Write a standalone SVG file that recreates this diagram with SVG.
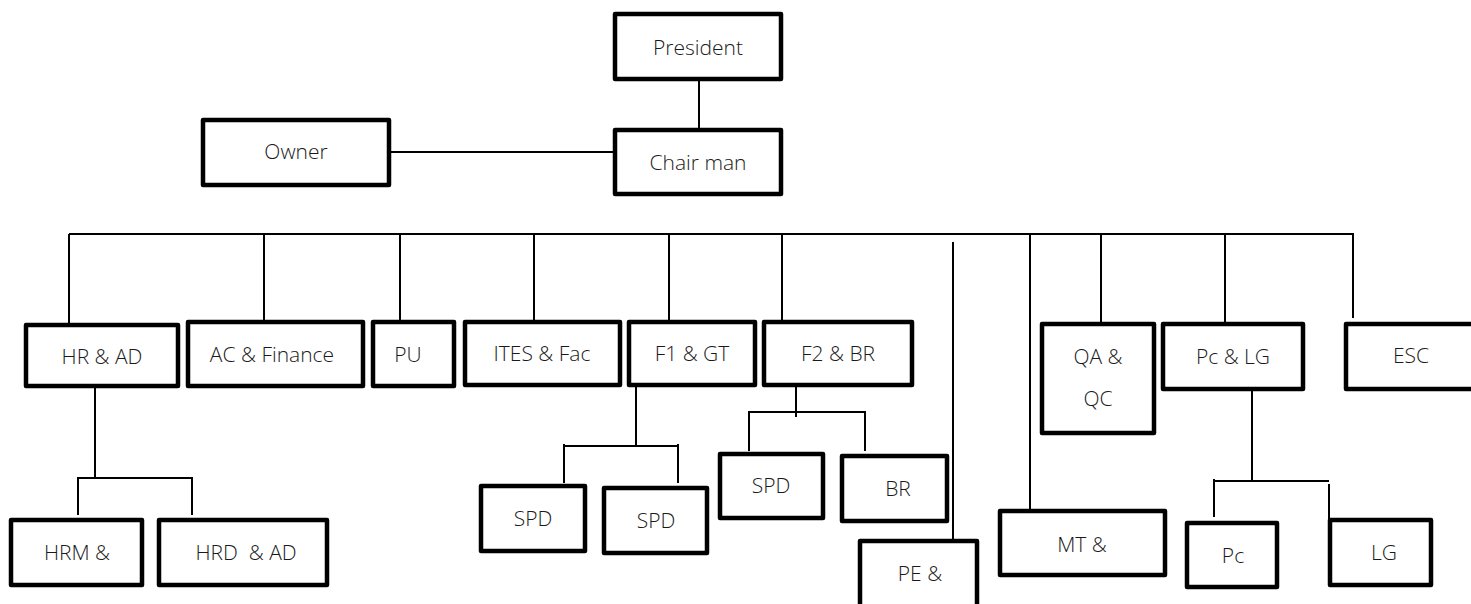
<svg xmlns="http://www.w3.org/2000/svg" width="1471" height="604" viewBox="0 0 1471 604">
<style>
.box{fill:#fff;stroke:#000;stroke-width:4.5;stroke-linejoin:round}
.lbl{font-family:"Open Sans","Noto Sans",sans-serif;font-size:21px;font-weight:300;fill:#1a1a1a;text-anchor:middle;white-space:pre}
.con line{stroke:#000;stroke-width:2}
</style>
<rect width="1471" height="604" fill="#fff"/>
<g class="con" id="connectors">
<line x1="699" y1="81" x2="699" y2="128"/>
<line x1="391" y1="152" x2="613" y2="152"/>
<line x1="69" y1="234" x2="1353" y2="234"/>
<line x1="69" y1="234" x2="69" y2="323"/>
<line x1="264" y1="234" x2="264" y2="320"/>
<line x1="400" y1="234" x2="400" y2="320"/>
<line x1="534" y1="234" x2="534" y2="320"/>
<line x1="669" y1="234" x2="669" y2="320"/>
<line x1="782" y1="234" x2="782" y2="320"/>
<line x1="1030" y1="234" x2="1030" y2="509"/>
<line x1="1101" y1="234" x2="1101" y2="322"/>
<line x1="1225" y1="234" x2="1225" y2="322"/>
<line x1="1353" y1="233" x2="1353" y2="318"/>
<line x1="953" y1="242" x2="953" y2="539"/>
<line x1="95" y1="384" x2="95" y2="478"/>
<line x1="78" y1="478" x2="192" y2="478"/>
<line x1="78" y1="477" x2="78" y2="515"/>
<line x1="192" y1="477" x2="192" y2="515"/>
<line x1="636" y1="386" x2="636" y2="446"/>
<line x1="564" y1="446" x2="678" y2="446"/>
<line x1="564" y1="444" x2="564" y2="483"/>
<line x1="678" y1="444" x2="678" y2="483"/>
<line x1="796" y1="387" x2="796" y2="417"/>
<line x1="749" y1="412" x2="865" y2="412"/>
<line x1="749" y1="411" x2="749" y2="451"/>
<line x1="865" y1="411" x2="865" y2="451"/>
<line x1="1252" y1="390" x2="1252" y2="481"/>
<line x1="1214" y1="481" x2="1329" y2="481"/>
<line x1="1214" y1="479" x2="1214" y2="517"/>
<line x1="1329" y1="484" x2="1329" y2="522"/>
</g>
<g id="president"><rect class="box" x="615" y="14" width="166" height="65"/><text class="lbl" x="698" y="55">President</text></g>
<g id="chairman"><rect class="box" x="615" y="130" width="166" height="64"/><text class="lbl" x="698" y="170">Chair man</text></g>
<g id="owner"><rect class="box" x="203" y="120" width="186" height="65"/><text class="lbl" x="296" y="159">Owner</text></g>
<g id="hr-ad"><rect class="box" x="26" y="325" width="152" height="61"/><text class="lbl" x="102" y="364">HR &amp; AD</text></g>
<g id="ac-finance"><rect class="box" x="188" y="322" width="175" height="64"/><text class="lbl" x="272" y="362">AC &amp; Finance</text></g>
<g id="pu"><rect class="box" x="373" y="322" width="81" height="64"/><text class="lbl" x="408" y="362">PU</text></g>
<g id="ites-fac"><rect class="box" x="465" y="322" width="155" height="63"/><text class="lbl" x="542" y="361">ITES &amp; Fac</text></g>
<g id="f1-gt"><rect class="box" x="629" y="322" width="126" height="63"/><text class="lbl" x="692" y="361">F1 &amp; GT</text></g>
<g id="f2-br"><rect class="box" x="764" y="322" width="148" height="63"/><text class="lbl" x="838" y="361">F2 &amp; BR</text></g>
<g id="qa-qc"><rect class="box" x="1042" y="324" width="112" height="109"/><text class="lbl" x="1098" y="364">QA &amp;</text><text class="lbl" x="1098" y="406">QC</text></g>
<g id="pc-lg"><rect class="box" x="1163" y="324" width="140" height="65"/><text class="lbl" x="1233" y="364">Pc &amp; LG</text></g>
<g id="esc"><rect class="box" x="1346" y="324" width="150" height="65"/><text class="lbl" x="1411" y="363">ESC</text></g>
<g id="hrm"><rect class="box" x="11" y="520" width="131" height="65"/><text class="lbl" x="77" y="560">HRM &amp;</text></g>
<g id="hrd-ad"><rect class="box" x="159" y="520" width="168" height="65"/><text class="lbl" x="246" y="560">HRD  &amp; AD</text></g>
<g id="spd1"><rect class="box" x="481" y="486" width="104" height="65"/><text class="lbl" x="533" y="526">SPD</text></g>
<g id="spd2"><rect class="box" x="604" y="488" width="103" height="65"/><text class="lbl" x="656" y="528">SPD</text></g>
<g id="spd3"><rect class="box" x="720" y="454" width="103" height="64"/><text class="lbl" x="771" y="493">SPD</text></g>
<g id="br"><rect class="box" x="842" y="456" width="105" height="65"/><text class="lbl" x="898" y="496">BR</text></g>
<g id="pe"><rect class="box" x="860" y="541" width="117" height="80"/><text class="lbl" x="920" y="581">PE &amp;</text></g>
<g id="mt"><rect class="box" x="1000" y="511" width="165" height="64"/><text class="lbl" x="1082" y="552">MT &amp;</text></g>
<g id="pc"><rect class="box" x="1187" y="523" width="90" height="64"/><text class="lbl" x="1233" y="563">Pc</text></g>
<g id="lg"><rect class="box" x="1330" y="520" width="101" height="65"/><text class="lbl" x="1384" y="560">LG</text></g>
</svg>
